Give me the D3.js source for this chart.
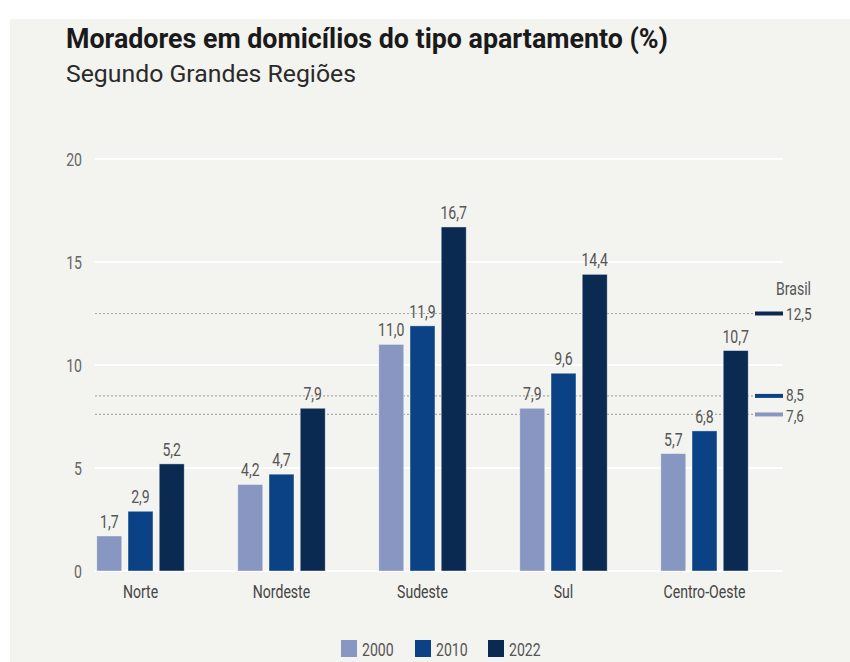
<!DOCTYPE html>
<html>
<head>
<meta charset="utf-8">
<script src="https://cdn.jsdelivr.net/npm/d3@7"></script>
<style>
    body { margin: 0; background: #fff; }
    svg text { font-family: "Roboto", "Liberation Sans", sans-serif; }
</style>
</head>
<body>
<div id="chart"></div>
<script>
// data
let regions = ["Norte", "Nordeste", "Sudeste", "Sul", "Centro-Oeste"];
let years = ["2000", "2010", "2022"];
let v2000 = [1.7, 4.2, 11.0, 7.9, 5.7];
let v2010 = [2.9, 4.7, 11.9, 9.6, 6.8];
let v2022 = [5.2, 7.9, 16.7, 14.4, 10.7];
let brasil = [7.6, 8.5, 12.5];
let yTicks = [0, 5, 10, 15, 20];
let colors = ["#8897c2", "#0a4285", "#0b2a52"];

let series = [v2000, v2010, v2022];
let fmt = function (v) { return d3.format(".1f")(v).replace(".", ","); };

// the original font is a narrow one, so squeeze the glyphs
let squeeze = function (sel, f) {
    sel.each(function () {
        let w = this.getComputedTextLength();
        d3.select(this).attr("textLength", w * f).attr("lengthAdjust", "spacingAndGlyphs");
    });
};
let fitTo = function (sel, w) {
    sel.attr("textLength", w).attr("lengthAdjust", "spacingAndGlyphs");
};
let SQ = 0.74;

let svg = d3.select("#chart").append("svg")
    .attr("width", 850)
    .attr("height", 662);

// background panel
svg.append("rect").attr("x", 10).attr("y", 19).attr("width", 840).attr("height", 643)
    .attr("fill", "#f3f3ef");

// titles
svg.append("text").attr("x", 66).attr("y", 48)
    .attr("font-size", 28).attr("font-weight", "bold").attr("fill", "#1a1a1a")
    .text("Moradores em domicílios do tipo apartamento (%)")
    .call(fitTo, 602);
svg.append("text").attr("x", 66).attr("y", 82)
    .attr("font-size", 23).attr("fill", "#2a2a2a")
    .text("Segundo Grandes Regiões")
    .call(fitTo, 290);

let y = d3.scaleLinear().domain([0, 20]).range([571, 159]);

let x0 = d3.scaleBand().domain(regions).range([70, 775])
    .paddingInner(0.38).paddingOuter(0.19);
let x1 = d3.scaleBand().domain(years).range([0, x0.bandwidth()]).paddingInner(0.2);

// grid lines
svg.append("g").selectAll("line").data(yTicks).join("line")
    .attr("x1", 95).attr("x2", 783)
    .attr("y1", d => y(d)).attr("y2", d => y(d))
    .attr("stroke", "#ffffff").attr("stroke-width", 2);

svg.append("g").selectAll("text").data(yTicks).join("text")
    .attr("x", 82).attr("y", d => y(d) + 7)
    .attr("text-anchor", "end").attr("font-size", 19).attr("fill", "#666")
    .text(d => d)
    .call(squeeze, SQ);

// Brasil reference lines
svg.append("g").selectAll("line").data(brasil).join("line")
    .attr("x1", 95).attr("x2", 754)
    .attr("y1", d => y(d)).attr("y2", d => y(d))
    .attr("stroke", "#a9a9a9").attr("stroke-width", 1.2)
    .attr("stroke-dasharray", "2,2");

// bars
series.forEach(function (vals, i) {
    svg.append("g").selectAll("rect").data(vals).join("rect")
        .attr("x", (d, j) => x0(regions[j]) + x1(years[i]))
        .attr("y", d => y(d))
        .attr("width", x1.bandwidth())
        .attr("height", d => y(0) - y(d))
        .attr("fill", colors[i])
        .attr("stroke", "#ffffff").attr("stroke-opacity", 0.5).attr("stroke-width", 0.8);

    svg.append("g").selectAll("text").data(vals).join("text")
        .attr("x", (d, j) => x0(regions[j]) + x1(years[i]) + x1.bandwidth() / 2)
        .attr("y", d => y(d) - 8)
        .attr("text-anchor", "middle").attr("font-size", 19).attr("fill", "#555")
        .text(d => fmt(d))
        .call(squeeze, SQ);
});

// x labels
svg.append("g").selectAll("text").data(regions).join("text")
    .attr("x", d => x0(d) + x0.bandwidth() / 2)
    .attr("y", 598)
    .attr("text-anchor", "middle").attr("font-size", 19).attr("fill", "#444")
    .text(d => d)
    .call(squeeze, SQ);

// Brasil markers
svg.append("text").attr("x", 811).attr("y", 295)
    .attr("text-anchor", "end").attr("font-size", 19).attr("fill", "#555")
    .text("Brasil")
    .call(squeeze, SQ);
svg.append("g").selectAll("line").data(brasil).join("line")
    .attr("x1", 755).attr("x2", 783)
    .attr("y1", d => y(d)).attr("y2", d => y(d))
    .attr("stroke", (d, i) => colors[i]).attr("stroke-width", 4);
// small nudge so the 8,5 and 7,6 labels do not collide
let labelShift = [8, 5, 6];
svg.append("g").selectAll("text").data(brasil).join("text")
    .attr("x", 786).attr("y", (d, i) => y(d) + labelShift[i])
    .attr("font-size", 17).attr("fill", "#555")
    .text(d => fmt(d))
    .call(squeeze, 0.8);

// legend
let legendX = [341, 415, 488];
let legend = svg.append("g").selectAll("g").data(years).join("g")
    .attr("transform", (d, i) => "translate(" + legendX[i] + ",640)");
legend.append("rect").attr("width", 16).attr("height", 17)
    .attr("fill", (d, i) => colors[i]);
legend.append("text").attr("x", 21).attr("y", 16)
    .attr("font-size", 19).attr("fill", "#555")
    .text(d => d)
    .call(squeeze, SQ);
</script>
</body>
</html>
